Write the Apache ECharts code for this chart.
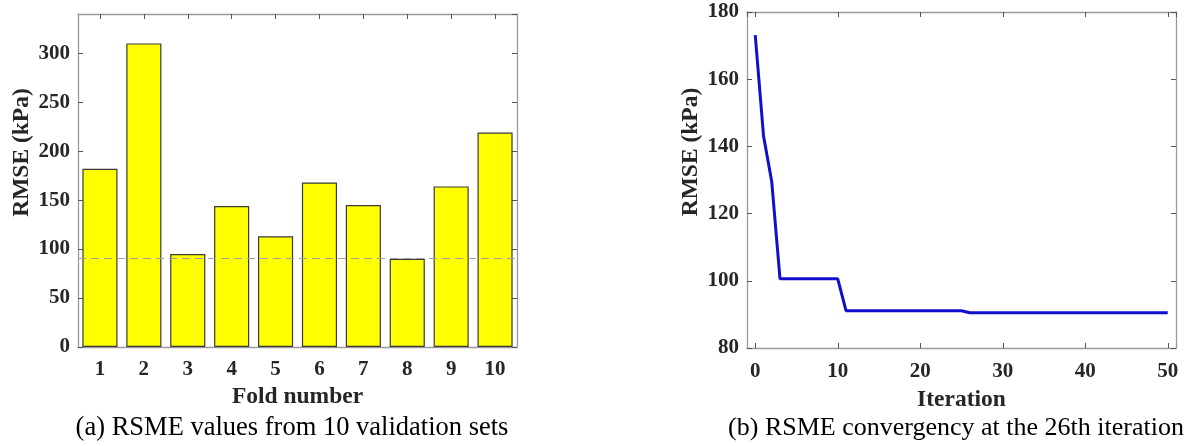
<!DOCTYPE html>
<html>
<head>
<meta charset="utf-8">
<script src="https://cdn.jsdelivr.net/npm/echarts@6/dist/echarts.min.js"></script>
<style>
html,body{margin:0;padding:0;background:#fff;}
#chart{width:1200px;height:446px;}
</style>
</head>
<body>
<div id="chart"></div>
<script>
// (a) RMSE per fold
const foldLabels = ['1','2','3','4','5','6','7','8','9','10'];
const foldRmse = [182, 310, 95, 144, 113, 168, 145, 90, 164, 219];
const meanRmse = 90.2;
// (b) convergence
const iterations = [
  0, 1, 2, 3, 4, 5, 6, 7, 8, 9,
  10, 11, 12, 13, 14, 15, 16, 17, 18, 19,
  20, 21, 22, 23, 24, 25, 26, 27, 28, 29,
  30, 31, 32, 33, 34, 35, 36, 37, 38, 39,
  40, 41, 42, 43, 44, 45, 46, 47, 48, 49,
  50
];
const convRmse = [
  173.1, 143.2, 129.5, 100.6, 100.6, 100.6, 100.6, 100.6, 100.6, 100.6,
  100.6, 91.1, 91.1, 91.1, 91.1, 91.1, 91.1, 91.1, 91.1, 91.1,
  91.1, 91.1, 91.1, 91.1, 91.1, 91.1, 90.5, 90.5, 90.5, 90.5,
  90.5, 90.5, 90.5, 90.5, 90.5, 90.5, 90.5, 90.5, 90.5, 90.5,
  90.5, 90.5, 90.5, 90.5, 90.5, 90.5, 90.5, 90.5, 90.5, 90.5,
  90.5
];
const captionA = '(a) RSME values from 10 validation sets';
const captionB = '(b) RSME convergency at the 26th iteration';

const FONT = '"Liberation Serif", "Times New Roman", serif';
const boxColor = '#9a9a9a';
const tickColor = '#555';
const labelStyle = {fontFamily: FONT, fontWeight: 'bold', fontSize: 21, color: '#262626'};
const nameStyle = {fontFamily: FONT, fontWeight: 'bold', fontSize: 23.5, color: '#262626'};

function mirrorAxis(extra) {
  return Object.assign({
    axisLine: {show: true, onZero: false, lineStyle: {color: boxColor, width: 1.3}},
    axisTick: {show: true, inside: true, length: 5, lineStyle: {color: tickColor}},
    axisLabel: {show: false},
    splitLine: {show: false}
  }, extra);
}

const chart = echarts.init(document.getElementById('chart'), null, {renderer: 'canvas'});
chart.setOption({
  backgroundColor: '#fff',
  animation: false,
  title: [
    {text: captionA, left: 287, textAlign: 'center', top: 410,
     textStyle: {fontFamily: FONT, fontWeight: 'normal', fontSize: 26.5, color: '#000'}},
    {text: captionB, left: 951, textAlign: 'center', top: 410,
     textStyle: {fontFamily: FONT, fontWeight: 'normal', fontSize: 26, color: '#000'}}
  ],
  grid: [
    {left: 78, top: 14, width: 439, height: 333},
    {left: 747, top: 12, width: 429, height: 336}
  ],
  xAxis: [
    {gridIndex: 0, type: 'category', data: foldLabels, position: 'bottom',
     name: 'Fold number', nameLocation: 'middle', nameGap: 38, nameTextStyle: nameStyle,
     axisLine: {show: true, onZero: false, lineStyle: {color: boxColor, width: 1.3}},
     axisTick: {show: false},
     axisLabel: Object.assign({margin: 12}, labelStyle)},
    Object.assign(mirrorAxis({gridIndex: 0, type: 'category', data: foldLabels, position: 'top'}),
     {axisTick: {show: true, inside: true, length: 5, alignWithLabel: true, lineStyle: {color: tickColor}}}),
    {gridIndex: 1, type: 'value', min: -1, max: 51, splitNumber: 5, position: 'bottom',
     name: 'Iteration', nameLocation: 'middle', nameGap: 40, nameTextStyle: nameStyle,
     axisLine: {show: true, onZero: false, lineStyle: {color: boxColor, width: 1.3}},
     axisTick: {show: true, inside: true, length: 5, lineStyle: {color: tickColor}},
     axisLabel: Object.assign({margin: 13, showMinLabel: false, showMaxLabel: false,
       formatter: v => (v % 10 === 0 ? String(v) : '')}, labelStyle),
     splitLine: {show: false}},
    mirrorAxis({gridIndex: 1, type: 'value', min: -1, max: 51, splitNumber: 5, position: 'top'})
  ],
  yAxis: [
    {gridIndex: 0, type: 'value', min: 0, max: 340, interval: 50, position: 'left',
     name: 'RMSE (kPa)', nameLocation: 'middle', nameGap: 44, nameRotate: 90,
     nameTextStyle: Object.assign({padding: [0, 0, 0, 56]}, nameStyle),
     axisLine: {show: true, onZero: false, lineStyle: {color: boxColor, width: 1.3}},
     axisTick: {show: true, inside: true, length: 5, lineStyle: {color: tickColor}},
     axisLabel: Object.assign({margin: 8, showMaxLabel: false,
       formatter: v => (v % 50 === 0 ? String(v) : '')}, labelStyle),
     splitLine: {show: false}},
    mirrorAxis({gridIndex: 0, type: 'value', min: 0, max: 340, interval: 50, position: 'right'}),
    {gridIndex: 1, type: 'value', min: 80, max: 180, interval: 20, position: 'left',
     name: 'RMSE (kPa)', nameLocation: 'middle', nameGap: 44, nameRotate: 90,
     nameTextStyle: Object.assign({padding: [0, 0, 0, 56]}, nameStyle),
     axisLine: {show: true, onZero: false, lineStyle: {color: boxColor, width: 1.3}},
     axisTick: {show: true, inside: true, length: 5, lineStyle: {color: tickColor}},
     axisLabel: Object.assign({margin: 8}, labelStyle),
     splitLine: {show: false}},
    mirrorAxis({gridIndex: 1, type: 'value', min: 80, max: 180, interval: 20, position: 'right'})
  ],
  series: [
    {type: 'bar', xAxisIndex: 0, yAxisIndex: 0, data: foldRmse, barWidth: '80%',
     itemStyle: {color: '#ffff00', borderColor: '#3a3a3a', borderWidth: 1.2},
     markLine: {silent: true, symbol: ['none', 'none'], label: {show: false},
       lineStyle: {color: '#a0a0a0', type: [8, 5], width: 1},
       data: [{yAxis: meanRmse}]}},
    {type: 'line', xAxisIndex: 2, yAxisIndex: 2,
     data: iterations.map((x, i) => [x, convRmse[i]]),
     showSymbol: false, symbol: 'none',
     lineStyle: {color: '#1010cc', width: 3}}
  ]
});
</script>
</body>
</html>
